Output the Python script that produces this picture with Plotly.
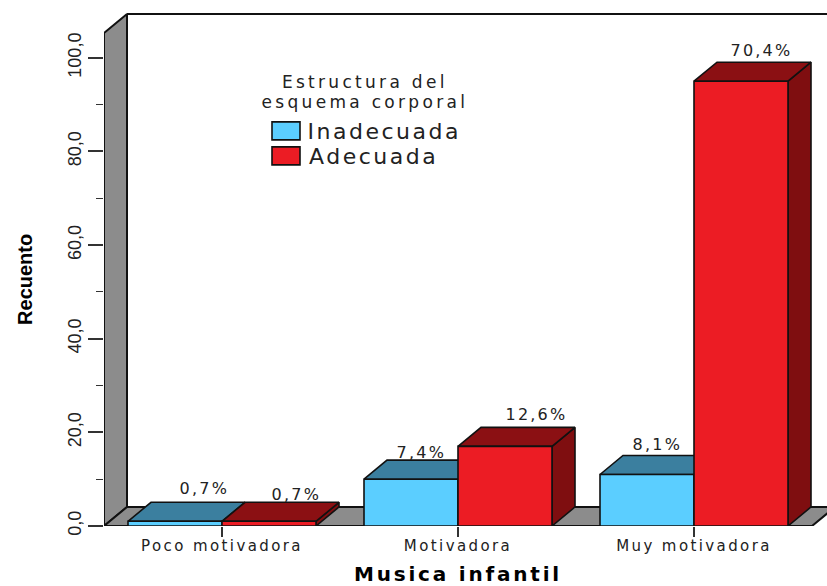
import json
import plotly.graph_objects as go

categories = ["Poco motivadora", "Motivadora", "Muy motivadora"]
inadecuada = [1, 10, 11]
adecuada = [1, 17, 95]
inadecuada_pct = ["0,7%", "7,4%", "8,1%"]
adecuada_pct = ["0,7%", "12,6%", "70,4%"]
y_ticks = [0, 20, 40, 60, 80, 100]
y_ticktext = ["0,0", "20,0", "40,0", "60,0", "80,0", "100,0"]

W, H = 827, 586
L, R, T, B = 104, 0, 11.2, 60
XMAX = -0.5 + (W - L - R) / 236
YMAX = 110
DX = 23 / 236
DY = 19 / 4.68
BW = 94 / 236

LINE = "#111111"
BLUE, BLUE_D = "#5BCEFF", "#3B7F9F"
RED, RED_D, RED_S = "#EC1C24", "#8B1013", "#7F0E10"
GREY = "#8C8C8C"
TXT = "#222222"
F_WIDE = "DejaVu Sans"
F_NARROW = "Liberation Sans"


def poly(xs, ys, fill, width=1.6):
    return go.Scatter(x=xs, y=ys, mode="lines", fill="toself", fillcolor=fill,
                      line=dict(color=LINE, width=width), hoverinfo="skip",
                      showlegend=False, cliponaxis=True, xaxis="x", yaxis="y")


fig = go.Figure()
# left wall, floor and back wall edge
fig.add_trace(poly([-0.5, -0.5, -0.5 + DX, -0.5 + DX, -0.5],
                   [0, 105.3, 105.3 + DY, DY, 0], GREY, 2))
fig.add_trace(poly([-0.5, 2.5, 2.5 + DX, XMAX + 1, -0.5 + DX, -0.5],
                   [0, 0, DY, DY, DY, 0], GREY, 2))
fig.add_trace(go.Scatter(x=[-0.5 + DX, XMAX], y=[105.3 + DY, 105.3 + DY], mode="lines",
                         line=dict(color=LINE, width=2), hoverinfo="skip", showlegend=False))

# depth faces, computed from the values
for vals, off, top_c, side_c in [(inadecuada, -BW, BLUE_D, BLUE_D), (adecuada, 0, RED_D, RED_S)]:
    for i, v in enumerate(vals):
        x0, x1 = i + off, i + off + BW
        fig.add_trace(poly([x1, x1 + DX, x1 + DX, x1, x1], [0, DY, v + DY, v, 0], side_c))
        fig.add_trace(poly([x0, x0 + DX, x1 + DX, x1, x0], [v, v + DY, v + DY, v, v], top_c))

# front faces
for name, vals, off, col in [("Inadecuada", inadecuada, -BW, BLUE), ("Adecuada", adecuada, 0, RED)]:
    fig.add_trace(go.Bar(x=[0, 1, 2], y=vals, name=name, width=BW, offset=off,
                         marker=dict(color=col, line=dict(color=LINE, width=1.6)),
                         showlegend=False, xaxis="x2", yaxis="y2"))

# value labels
label_shift_x = [[29, 10, 10], [27, 31, 20]]
label_shift_y = [[14, 8, 10.5], [8, 13, 12]]
annotations = []
for s, (vals, off, texts) in enumerate([(inadecuada, -BW / 2, inadecuada_pct),
                                        (adecuada, BW / 2, adecuada_pct)]):
    for i, v in enumerate(vals):
        annotations.append(dict(x=i + off, y=v + DY, xref="x", yref="y", text=texts[i],
                                showarrow=False, xanchor="center", yanchor="middle",
                                xshift=label_shift_x[s][i], yshift=label_shift_y[s][i],
                                font=dict(family=F_WIDE, size=16, color=TXT)))


def px(x):
    return (x - L) / (W - L - R)


def py(y):
    return 1 - (y - T) / (H - T - B)


def txt(x, y, s, size, family=F_WIDE, angle=0, bold=False):
    annotations.append(dict(x=px(x), y=py(y), xref="paper", yref="paper", text=s,
                            showarrow=False, xanchor="center", yanchor="middle", textangle=angle,
                            font=dict(family=family, size=size, color=TXT if not bold else "#000",
                                      weight=700 if bold else 400)))


txt(365, 82.5, "Estructura del", 17)
txt(365, 102.3, "esquema corporal", 17)
txt(383.5, 132, "Inadecuada", 22)
txt(373, 157, "Adecuada", 22)
txt(458, 574, "Musica infantil", 20, bold=True)
txt(25, 280, "Recuento", 20, family=F_NARROW, angle=-90, bold=True)

shapes = [
    dict(type="rect", xref="paper", yref="paper", x0=px(272), x1=px(300), y0=py(122), y1=py(140),
         fillcolor=BLUE, line=dict(color=LINE, width=1.6)),
    dict(type="rect", xref="paper", yref="paper", x0=px(272), x1=px(300), y0=py(147), y1=py(165),
         fillcolor=RED, line=dict(color=LINE, width=1.6)),
]

fig.update_layout(
    width=W, height=H, autosize=False,
    margin=dict(l=L, r=R, t=T, b=B, pad=0),
    paper_bgcolor="white", plot_bgcolor="white",
    barmode="overlay", showlegend=False,
    annotations=annotations, shapes=shapes,
    xaxis=dict(range=[-0.5, XMAX], tickmode="array", tickvals=[0, 1, 2], ticktext=categories,
               showgrid=False, zeroline=False, showline=False, ticks="outside", ticklen=10,
               ticklabelstandoff=-4,
               tickwidth=1.6, tickcolor="#333333",
               tickfont=dict(family=F_WIDE, size=15, color=TXT)),
    yaxis=dict(range=[0, YMAX], tickmode="array", tickvals=y_ticks, ticktext=y_ticktext,
               showgrid=False, zeroline=False, showline=False, ticks="outside", ticklen=15,
               tickwidth=1.6, tickcolor="#333333", tickangle=-90,
               minor=dict(tickmode="array", tickvals=[10, 30, 50, 70, 90], ticks="outside",
                          ticklen=7, tickwidth=1.4, tickcolor="#333333", showgrid=False),
               tickfont=dict(family=F_NARROW, size=18, color=TXT)),
    xaxis2=dict(range=[-0.5, XMAX], overlaying="x", visible=False),
    yaxis2=dict(range=[0, YMAX], overlaying="y", visible=False),
)

# the reference's text is stretched horizontally: widen it with letter spacing
spacing = {"Estructura del": 3.3, "esquema corporal": 3.3, "Inadecuada": 2.5, "Adecuada": 2.5,
           "Musica infantil": 2.8}
for t in inadecuada_pct + adecuada_pct:
    spacing[t] = 2.2
for t in categories:
    spacing[t] = 2.4

post = ("document.body.style.margin='0';"
        "var sp=" + json.dumps(spacing) + ";"
        "document.querySelectorAll('svg text').forEach(function(e){"
        "var s=sp[e.textContent];if(s){e.style.letterSpacing=s+'px';}});")

fig.write_html("out.html", config=dict(displayModeBar=False), post_script=post)
